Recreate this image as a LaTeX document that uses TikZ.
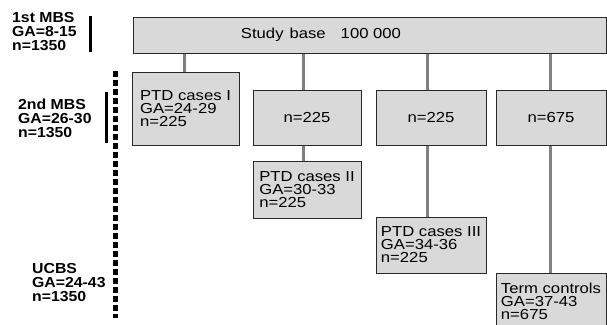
\documentclass[tikz,border=0pt]{standalone}
\usepackage{fontspec}
\setmainfont{Liberation Sans}[FakeStretch=1.15]
\newfontfamily\cohortfont{Liberation Sans}[FakeStretch=1.09, BoldFeatures={FakeStretch=1.09}]
\usepackage{xcolor}
\usepackage{tikz}
\usetikzlibrary{positioning}
\definecolor{boxgray}{RGB}{217,217,217}
\definecolor{linkgray}{RGB}{128,128,128}
\definecolor{edgegray}{RGB}{40,40,40}

\begin{document}
\begin{tikzpicture}[x=1pt, y=-1pt,
    box/.style={draw=edgegray, fill=boxgray, line width=1pt, align=left, inner sep=0pt, font=\fontsize{14.5}{13}\selectfont},
    link/.style={draw=linkgray, line width=3pt},
    cohort/.style={anchor=north west, align=left, inner sep=0pt, font=\cohortfont\bfseries\fontsize{14.5}{14}\selectfont},
    bar/.style={line width=3pt}]
    \useasboundingbox (0,0) rectangle (607,324);

    % Study base
    \node[box, minimum width=473pt, minimum height=36pt] (base) at (369.5,35) {};
    \node[font=\fontsize{14.5}{13}\selectfont, inner sep=0pt] (basetxt) at (321,35) {Study\hspace{6pt}base\hspace{15pt}100 000};

    % Sampled groups
    \node[box, minimum width=107pt, minimum height=73pt] (casesI) at (185.5,108.5) {PTD cases I\\GA=24-29\\n=225};
    \node[box, minimum width=108pt, minimum height=55pt] (nII) at (307,117.5) {n=225};
    \node[box, minimum width=110pt, minimum height=55pt] (nIII) at (431,117.5) {n=225};
    \node[box, minimum width=110pt, minimum height=55pt] (nterm) at (551,117.5) {n=675};

    \node[box, minimum width=108pt, minimum height=57pt] (casesII) at (307,189.5) {PTD cases II\\GA=30-33\\n=225};
    \node[box, minimum width=110pt, minimum height=56pt] (casesIII) at (431,245) {PTD cases III\\GA=34-36\\n=225};
    \node[box, minimum width=110pt, minimum height=56pt] (controls) at (551,301) {Term controls\\GA=37-43\\n=675};

    % Links
    \draw[link] ([xshift=-1pt]casesI.north) -- ([xshift=-1pt]casesI.north |- base.south);
    \draw[link] ([xshift=-4pt]nII.north) -- ([xshift=-4pt]nII.north |- base.south);
    \draw[link] ([xshift=-4pt]nIII.north) -- ([xshift=-4pt]nIII.north |- base.south);
    \draw[link] ([xshift=-1pt]nterm.north) -- ([xshift=-1pt]nterm.north |- base.south);
    \draw[link] ([xshift=-4pt]nII.south) -- ([xshift=-4pt]casesII.north);
    \draw[link] ([xshift=-4pt]nIII.south) -- ([xshift=-4pt]casesIII.north);
    \draw[link] ([xshift=-1pt]nterm.south) -- ([xshift=-1pt]controls.north);

    % Sampling waves
    \node[cohort] (mbsone) at (12,12) {1st MBS\\GA=8-15\\n=1350};
    \node[cohort] (mbstwo) at (18,99) {2nd MBS\\GA=26-30\\n=1350};
    \node[cohort] (ucbs) at (32,263) {UCBS\\GA=24-43\\n=1350};

    \draw[bar] (90,16) -- (90,52);
    \draw[bar] (106,92) -- (106,143);
    \draw[line width=4.5pt, dash pattern=on 6pt off 3pt] (115.7,71) -- (115.7,318);
\end{tikzpicture}
\end{document}
